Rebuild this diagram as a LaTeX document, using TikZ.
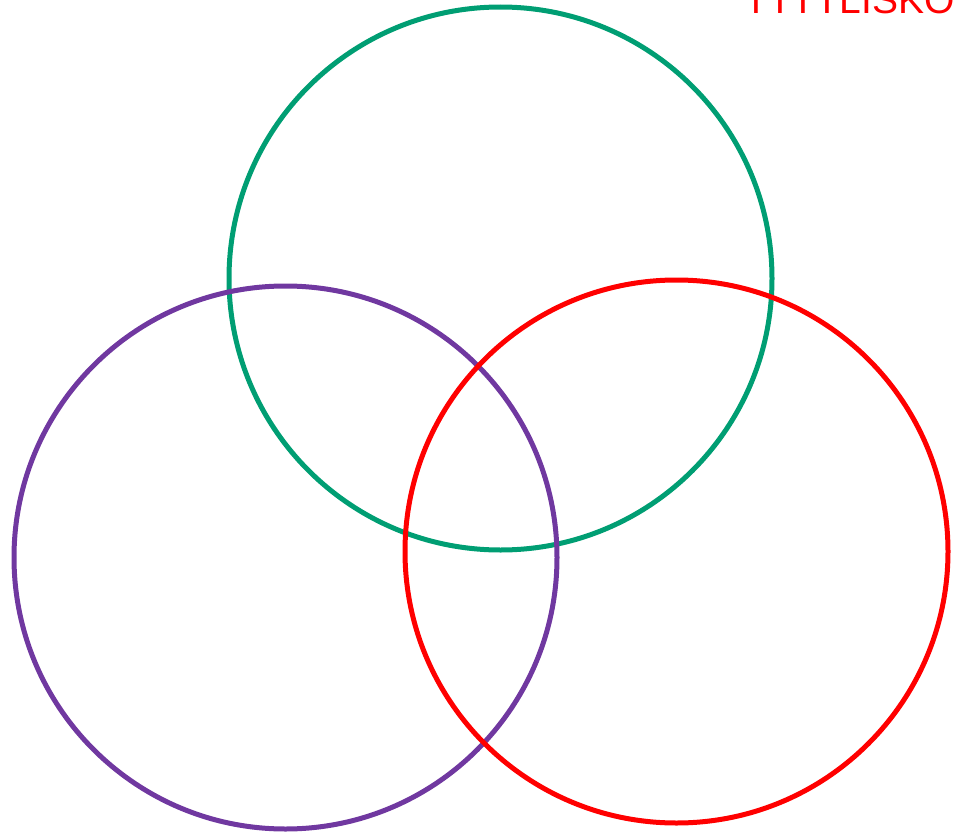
\documentclass[tikz,border=0pt]{standalone}
\usepackage{fontspec}
\setmainfont{Liberation Sans}
\definecolor{vgreen}{RGB}{0,158,115}
\definecolor{vpurple}{RGB}{112,56,160}
\definecolor{vred}{RGB}{255,0,0}
\begin{document}
\begin{tikzpicture}[x=1pt,y=-1pt,
  ring/.style={line width=5pt}]
\useasboundingbox (0,0) rectangle (954,835);
\clip (0,0) rectangle (954,835);
\draw[ring,vgreen] (500.5,278.5) circle[radius=271.5];
\draw[ring,vpurple] (285.5,557.5) circle[radius=271.5];
\draw[ring,vred] (676.5,551.5) circle[radius=271.5];
\node[anchor=base west,inner sep=0,text=vred,font=\fontsize{39}{41}\selectfont] (title) at (744,13) {TTTTLISKO};
\end{tikzpicture}
\end{document}
